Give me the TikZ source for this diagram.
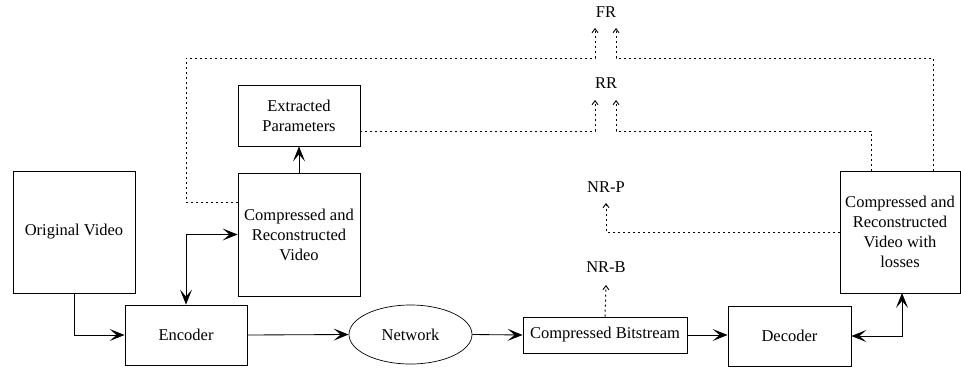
\documentclass[tikz,border=0pt]{standalone}
\usepackage{fontspec}
\setmainfont{Liberation Serif}
\usetikzlibrary{arrows.meta,shapes.geometric}
\begin{document}
\begin{tikzpicture}[x=1pt,y=-1pt,
  box/.style={draw,line width=0.85pt,rectangle,inner sep=0pt,align=center,font=\fontsize{16.5}{20}\selectfont},
  lbl/.style={inner sep=0pt,font=\fontsize{16.5}{20}\selectfont},
  tip/.style={},
  arr/.style={line width=0.85pt,-{Stealth[length=15pt,width=12pt,inset=7pt]}},
  arrb/.style={line width=0.85pt,{Stealth[length=15pt,width=12pt,inset=7pt]}-{Stealth[length=15pt,width=12pt,inset=7pt]}},
  dot/.style={line width=1pt,dash pattern=on 2pt off 3pt,-{Straight Barb[length=4pt,width=6pt,line width=0.9pt]}}]
\useasboundingbox (0,0) rectangle (961,370);
% nodes
\node[box,minimum width=122pt,minimum height=122pt] (ov) at (74,232) {Original Video};
\node[box,minimum width=122pt,minimum height=123pt] (crv) at (299,234.5) {Compressed and\\Reconstructed\\Video};
\node[box,minimum width=122pt,minimum height=61pt] (ep) at (299,115.5) {Extracted\\Parameters};
\node[box,minimum width=122pt,minimum height=60pt] (enc) at (186,335) {Encoder};
\node[box,ellipse,line width=0.7pt,minimum width=123pt,minimum height=59pt] (net) at (410.5,334.5) {Network};
\node[box,minimum width=164pt,minimum height=36pt] (cb) at (605,335) {Compressed Bitstream};
\node[box,minimum width=123pt,minimum height=60pt] (dec) at (789.5,336) {Decoder};
\node[box,minimum width=120pt,minimum height=122pt] (crvl) at (900,232) {Compressed and\\Reconstructed\\Video with\\losses};
\node[lbl] (fr) at (606,12) {FR};
\node[lbl] (rr) at (606,83) {RR};
\node[lbl] (nrp) at (606,187) {NR-P};
\node[lbl] (nrb) at (606,267) {NR-B};
% helper coordinates
\coordinate (frs) at (238,202);
\coordinate (fra) at (186,202);
\coordinate (frb) at (186,58);
\coordinate (frc) at (595,58);
\coordinate (frt) at (595,28);
\coordinate (frd) at (933,171);
\coordinate (fre) at (933,58);
\coordinate (frf) at (616,58);
\coordinate (frg) at (616,28);
\coordinate (rrs) at (360,131);
\coordinate (rra) at (595,131);
\coordinate (rrt) at (595,100);
\coordinate (rrd) at (871,171);
\coordinate (rre) at (871,131);
\coordinate (rrf) at (616,131);
\coordinate (rrg) at (616,100);
\coordinate (nps) at (840,232);
\coordinate (npa) at (606,232);
\coordinate (npt) at (606,203);
\coordinate (nbt) at (606,285);
\coordinate (dbs) at (902,293);
% solid connectors
\draw[arr] (ov.south) |- (enc.west);
\draw[arr] (enc.east) -- (net.west);
\draw[arr] (net.east) -- (cb.west);
\draw[arr] (cb.east) -- (cb.east -| dec.west);
\draw[arrb] (enc.north) |- (crv.west);
\draw[arrb] (dec.east) -| (dbs);
\draw[arr] (crv.north) -- (ep.south);
% dotted connectors
\draw[dot] (frs) -- (fra) -- (frb) -- (frc) -- (frt);
\draw[dot] (frd) -- (fre) -- (frf) -- (frg);
\draw[dot] (rrs) -- (rra) -- (rrt);
\draw[dot] (rrd) -- (rre) -- (rrf) -- (rrg);
\draw[dot] (nps) -- (npa) -- (npt);
\draw[dot] (cb.north) -- (nbt);
\end{tikzpicture}
\end{document}
